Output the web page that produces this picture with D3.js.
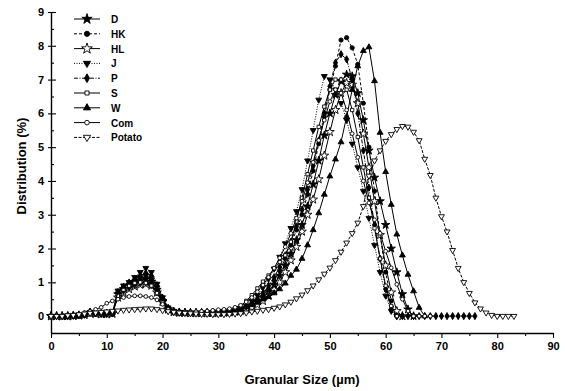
<!DOCTYPE html>
<html>
<head>
<meta charset="utf-8">
<script src="https://cdn.jsdelivr.net/npm/d3@7"></script>
<style>
  body { margin: 0; background: #fff; }
  svg { font-family: "Liberation Sans", Arial, sans-serif; }
</style>
</head>
<body>
<figure id="chart" style="margin:0"></figure>
<script>
// granular size grid (µm)
const grainSize = [0,1,2,3,4,5,6,7,8,9,10,11,12,13,14,15,16,17,18,19,20,21,22,23,24,25,26,27,28,29,
  30,31,32,33,34,35,36,37,38,39,40,41,42,43,44,45,46,47,48,49,50,51,52,53,54,55,56,57,58,59,
  60,61,62,63,64,65,66,67,68,69,70,71,72,73,74,75,76,77,78,79,80,81,82,83];

// distribution (%) per sample, starting at 0 µm
const distD = [0,0,0,0,0.01,0.02,0.04,0.1,0.08,0.07,0.07,0.08,0.65,0.8,0.9,0.98,1.05,1.1,1.02,0.78,
  0.45,0.2,0.13,0.11,0.1,0.1,0.1,0.1,0.1,0.1,0.1,0.11,0.13,0.15,0.18,0.24,0.32,0.42,0.55,0.72,
  0.93,1.2,1.5,1.85,2.25,2.7,3.25,3.9,4.6,5.35,6.0,6.55,6.95,7.15,7.1,6.6,5.8,4.9,4.1,3.4,
  2.7,2.0,1.3,0.65,0.2,0];
const distHK = [0,0,0,0,0.01,0.03,0.05,0.12,0.1,0.08,0.08,0.09,0.7,0.85,0.95,1.05,1.15,1.2,1.1,0.85,
  0.5,0.22,0.13,0.11,0.1,0.1,0.1,0.1,0.1,0.1,0.1,0.1,0.12,0.15,0.19,0.25,0.33,0.45,0.6,0.8,
  1.05,1.35,1.7,2.1,2.55,3.0,3.6,4.3,5.1,5.9,6.7,7.4,8.17,8.24,7.94,7.45,6.3,5.0,3.7,2.4,
  1.3,0.45,0];
const distHL = [0,0,0,0,0.01,0.02,0.04,0.08,0.07,0.06,0.06,0.07,0.55,0.7,0.8,0.88,0.93,0.95,0.9,0.7,
  0.42,0.2,0.12,0.1,0.1,0.09,0.09,0.09,0.09,0.09,0.1,0.1,0.11,0.13,0.15,0.2,0.26,0.34,0.45,0.6,
  0.78,1.0,1.3,1.65,2.05,2.5,3.0,3.45,4.05,4.75,5.45,6.1,6.6,6.9,6.85,6.3,5.4,4.4,3.4,2.4,
  1.5,0.7,0.15,0];
const distJ = [0,0,0,0,0.01,0.02,0.04,0.12,0.08,0.06,0.06,0.08,0.75,0.9,1.0,1.15,1.3,1.42,1.3,0.95,
  0.55,0.25,0.15,0.12,0.11,0.1,0.1,0.1,0.1,0.1,0.11,0.12,0.14,0.17,0.22,0.3,0.45,0.62,0.85,1.1,
  1.4,1.75,2.15,2.6,3.1,3.75,4.6,5.5,6.4,7.1,7.0,6.7,6.3,5.8,5.1,4.4,3.7,2.9,2.1,1.3,
  0.6,0.15,0];
const distP = [0,0,0,0,0.01,0.02,0.04,0.09,0.08,0.07,0.07,0.08,0.6,0.75,0.85,0.92,0.98,1.0,0.92,0.7,
  0.4,0.18,0.12,0.1,0.1,0.1,0.1,0.1,0.1,0.1,0.1,0.11,0.13,0.16,0.2,0.28,0.38,0.5,0.68,0.9,
  1.15,1.45,1.8,2.2,2.65,3.15,3.75,4.45,5.2,6.0,6.8,7.5,7.75,7.6,7.0,6.0,4.9,3.8,2.7,1.7,
  0.8,0.2,0,0,0,0,0,0,0,0,0,0,0,0,0,0,0];
const distS = [0,0,0,0,0.01,0.02,0.04,0.08,0.07,0.06,0.06,0.08,0.6,0.78,0.9,0.98,1.0,0.98,0.9,0.68,
  0.4,0.18,0.12,0.1,0.1,0.1,0.1,0.1,0.11,0.12,0.13,0.14,0.16,0.2,0.3,0.45,0.62,0.82,1.02,1.2,
  1.4,1.6,1.8,2.2,2.8,3.5,4.2,4.9,5.6,6.2,6.7,7.0,7.0,6.7,6.1,5.3,4.4,3.5,2.6,1.7,
  0.9,0.3,0];
const distW = [0,0,0,0,0.01,0.02,0.05,0.14,0.1,0.08,0.08,0.09,0.72,0.88,1.0,1.1,1.2,1.28,1.2,0.92,
  0.55,0.25,0.14,0.12,0.11,0.1,0.1,0.1,0.1,0.1,0.11,0.12,0.14,0.17,0.22,0.27,0.33,0.4,0.5,0.57,
  0.68,0.8,0.97,1.2,1.38,1.7,2.1,2.55,3.05,3.6,4.14,4.64,5.15,5.9,6.7,7.4,7.85,7.96,6.96,5.43,
  4.27,3.3,2.42,1.8,1.23,0.74,0.25,0];
const distCom = [0.02,0.02,0.02,0.03,0.04,0.06,0.1,0.14,0.2,0.26,0.38,0.45,0.5,0.55,0.58,0.6,0.6,0.58,0.55,0.48,
  0.35,0.2,0.14,0.12,0.12,0.12,0.13,0.14,0.15,0.17,0.19,0.2,0.22,0.26,0.32,0.42,0.55,0.72,0.92,1.15,
  1.42,1.72,2.05,2.45,2.9,3.4,3.95,4.55,5.2,5.8,6.35,6.7,6.6,6.1,5.4,4.7,4.0,3.35,2.85,2.45,
  1.92,1.43,0.94,0.5,0.15,0,0,0,0];
const distPotato = [0,0,0,0.02,0.03,0.05,0.07,0.09,0.1,0.12,0.13,0.15,0.16,0.18,0.19,0.2,0.21,0.22,0.22,0.2,
  0.17,0.14,0.12,0.1,0.09,0.08,0.07,0.06,0.06,0.05,0.05,0.05,0.06,0.07,0.08,0.1,0.13,0.15,0.18,0.2,
  0.24,0.28,0.34,0.42,0.52,0.63,0.76,0.9,1.08,1.25,1.43,1.65,1.9,2.17,2.45,2.76,3.25,4.15,4.6,4.9,
  5.18,5.38,5.53,5.62,5.6,5.45,5.2,4.65,4.17,3.5,2.95,2.5,1.95,1.42,1.0,0.68,0.4,0.22,0.1,0.03,
  0,0,0,0];

const sampleNames = ["D", "HK", "HL", "J", "P", "S", "W", "Com", "Potato"];
const sampleValues = [distD, distHK, distHL, distJ, distP, distS, distW, distCom, distPotato];

const xTicks = [0, 10, 20, 30, 40, 50, 60, 70, 80, 90];
const yTicks = [0, 1, 2, 3, 4, 5, 6, 7, 8, 9];

// marker style per sample
const styles = {
  D:      { sym: d3.symbolStar,     size: 22, fill: "#000", rot: 0,   dash: null },
  HK:     { sym: d3.symbolCircle,   size: 14, fill: "#000", rot: 0,   dash: "3,2" },
  HL:     { sym: d3.symbolStar,     size: 24, fill: "#fff", rot: 0,   dash: null },
  J:      { sym: d3.symbolTriangle, size: 15, fill: "#000", rot: 180, dash: "1,1.5" },
  P:      { sym: d3.symbolDiamond,  size: 15, fill: "#000", rot: 0,   dash: "4,1.5,1,1.5" },
  S:      { sym: d3.symbolSquare,   size: 11, fill: "#fff", rot: 0,   dash: null },
  W:      { sym: d3.symbolTriangle, size: 15, fill: "#000", rot: 0,   dash: null },
  Com:    { sym: d3.symbolCircle,   size: 11, fill: "#fff", rot: 0,   dash: null },
  Potato: { sym: d3.symbolTriangle, size: 15, fill: "#fff", rot: 180, dash: "3,1.5" }
};

const width = 565, height = 391;
const svg = d3.select("#chart").append("svg")
  .attr("width", width)
  .attr("height", height);

const x = d3.scaleLinear().domain([0, 90]).range([51, 553]);
const y = d3.scaleLinear().domain([-0.5, 9]).range([333, 12]);

// axes
const xAxis = svg.append("g")
  .attr("transform", "translate(0,333)")
  .call(d3.axisBottom(x).tickValues(xTicks).tickSizeInner(5).tickSizeOuter(0).tickPadding(4));
svg.append("g")
  .attr("transform", "translate(0,333)")
  .call(d3.axisBottom(x).tickValues(xTicks.slice(0, -1).map(v => v + 5)).tickSize(3).tickFormat(""))
  .select(".domain").remove();

const yAxis = svg.append("g")
  .attr("transform", "translate(51,0)")
  .call(d3.axisLeft(y).tickValues(yTicks).tickSizeInner(-5).tickSizeOuter(0).tickPadding(7));
svg.append("g")
  .attr("transform", "translate(51,0)")
  .call(d3.axisLeft(y).tickValues(yTicks.slice(0, -1).map(v => v + 0.5)).tickSize(-3).tickFormat(""))
  .select(".domain").remove();
// short outward stubs on y major ticks
yAxis.selectAll(".tick").append("line").attr("x2", -3).attr("stroke", "#000");

svg.selectAll(".domain").attr("stroke-width", 1.4);
svg.selectAll(".tick line").attr("stroke-width", 1.1);
[xAxis, yAxis].forEach(a => a.selectAll("text")
  .attr("font-size", 11).attr("font-weight", "bold").attr("fill", "#000"));

// axis titles
svg.append("text")
  .attr("x", 302).attr("y", 384)
  .attr("text-anchor", "middle")
  .attr("font-size", 13).attr("font-weight", "bold")
  .text("Granular Size (µm)");
svg.append("text")
  .attr("transform", "translate(26,166) rotate(-90)")
  .attr("text-anchor", "middle")
  .attr("font-size", 13).attr("font-weight", "bold")
  .text("Distribution (%)");

const line = d3.line()
  .x(d => x(d[0]))
  .y(d => y(d[1]));

function symbolPath(st, scale) {
  return d3.symbol().type(st.sym).size(st.size * (scale || 1))();
}

const plot = svg.append("g");
sampleNames.forEach((name, i) => {
  const st = styles[name];
  const pts = sampleValues[i].map((v, j) => [grainSize[j], v]);
  const g = plot.append("g").attr("class", "series");
  g.append("path")
    .datum(pts)
    .attr("d", line)
    .attr("fill", "none")
    .attr("stroke", "#000")
    .attr("stroke-width", 1)
    .attr("stroke-dasharray", st.dash);
  g.selectAll("path.mk")
    .data(pts)
    .join("path")
    .attr("class", "mk")
    .attr("d", symbolPath(st))
    .attr("transform", d => "translate(" + x(d[0]) + "," + y(d[1]) + ") rotate(" + st.rot + ")")
    .attr("fill", st.fill)
    .attr("stroke", "#000")
    .attr("stroke-width", 0.9);
});

// legend
const legend = svg.append("g").attr("transform", "translate(74,19)");
sampleNames.forEach((name, i) => {
  const st = styles[name];
  const row = legend.append("g").attr("transform", "translate(0," + (i * 14.8) + ")");
  row.append("line")
    .attr("x1", 0).attr("x2", 26)
    .attr("stroke", "#000").attr("stroke-width", 1)
    .attr("stroke-dasharray", st.dash);
  row.append("path")
    .attr("d", symbolPath(st, 1.5))
    .attr("transform", "translate(13,0) rotate(" + st.rot + ")")
    .attr("fill", st.fill).attr("stroke", "#000").attr("stroke-width", 0.9);
  row.append("text")
    .attr("x", 37).attr("y", 4)
    .attr("font-size", 10).attr("font-weight", "bold")
    .text(name);
});
</script>
</body>
</html>
